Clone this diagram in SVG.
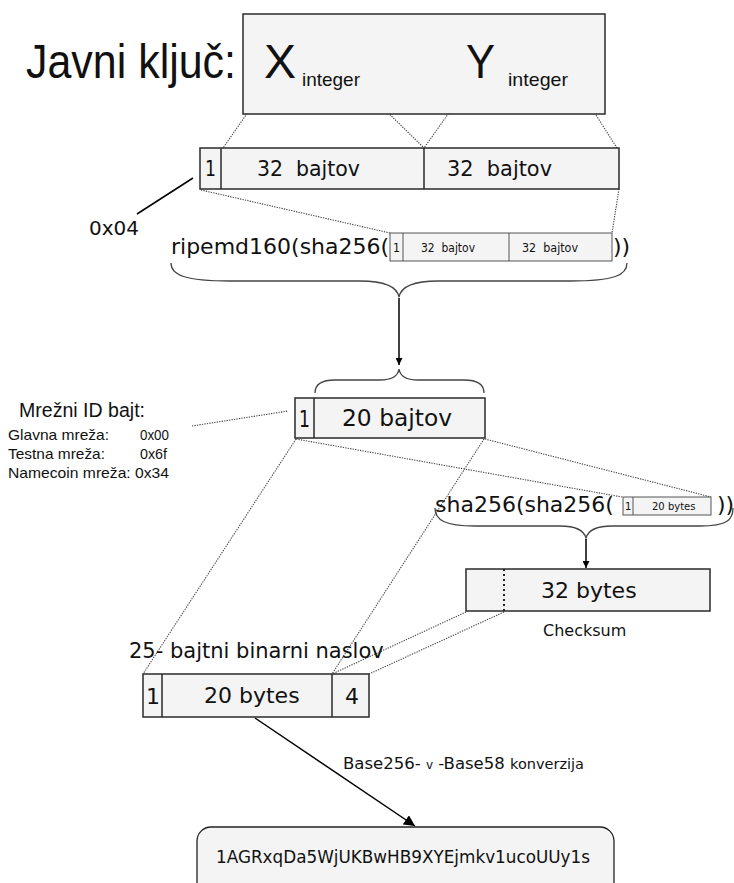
<svg xmlns="http://www.w3.org/2000/svg" width="734" height="883" viewBox="0 0 734 883">
<style>
.box{fill:#f4f4f4;stroke:#2a2a2a;stroke-width:1.5}
.sbox{fill:#f4f4f4;stroke:#555;stroke-width:1}
.div{stroke:#2a2a2a;stroke-width:1.5;fill:none}
.sdiv{stroke:#555;stroke-width:1;fill:none}
.dot{stroke:#444;stroke-width:1.1;stroke-dasharray:1.3 1.2;fill:none}
.brace{stroke:#444;stroke-width:1.3;fill:none}
.arr{stroke:#000;stroke-width:1.5;fill:none}
.ls{font-family:"Liberation Sans",Arial,sans-serif;fill:#111}
.dj{font-family:"DejaVu Sans",sans-serif;fill:#111}
</style>
<defs>
<marker id="ah" viewBox="0 0 10 10" refX="10" refY="5" markerWidth="7" markerHeight="7" orient="auto" markerUnits="userSpaceOnUse">
<path d="M0,0 L10,5 L0,10 z" fill="#000"/>
</marker>
<marker id="ahb" viewBox="0 0 10 10" refX="10" refY="5" markerWidth="11" markerHeight="11" orient="auto" markerUnits="userSpaceOnUse">
<path d="M0,0 L10,5 L0,10 z" fill="#000"/>
</marker>
</defs>

<g id="connectors">
<line class="dot" x1="260" y1="95" x2="223" y2="148"/>
<line class="dot" x1="372" y1="97" x2="424" y2="148"/>
<line class="dot" x1="463" y1="93" x2="424" y2="148"/>
<line class="dot" x1="580" y1="90" x2="617" y2="148"/>
<line x1="193" y1="178" x2="137" y2="214" stroke="#000" stroke-width="1.5"/>
<line class="dot" x1="201" y1="190" x2="390" y2="233"/>
<line class="dot" x1="619" y1="189" x2="612" y2="233"/>
<path class="brace" d="M171,263 C171,275 185,281 230,281 L360,281 C385,281 397,287 399,297 C401,287 413,281 438,281 L570,281 C615,281 627,275 627,263"/>
<line class="arr" x1="399" y1="298" x2="399" y2="365" marker-end="url(#ah)"/>
<path class="brace" d="M315,393 C315,385 320,380 335,380 L380,380 C393,380 398,376 399,369 C400,376 405,380 418,380 L464,380 C479,380 484,385 484,393"/>
<line class="dot" x1="192" y1="426" x2="288" y2="411"/>
<line class="dot" x1="296" y1="439" x2="622" y2="497"/>
<line class="dot" x1="485" y1="439" x2="711" y2="497"/>
<line class="dot" x1="296" y1="439" x2="143" y2="674"/>
<line class="dot" x1="484" y1="439" x2="332" y2="674"/>
<path class="brace" d="M435,508 C435,520 445,526 475,526 L560,526 C578,526 584,531 586,538 C588,531 594,526 612,526 L700,526 C727,526 733,520 733,508"/>
<line class="arr" x1="586" y1="539" x2="586" y2="568" marker-end="url(#ah)"/>
<line class="dot" x1="466" y1="612" x2="332" y2="674"/>
<line class="dot" x1="504" y1="612" x2="369" y2="674"/>
<line class="arr" x1="255" y1="718" x2="415" y2="826" marker-end="url(#ahb)"/>
</g>

<g id="public-key">
<rect class="box" x="243" y="14" width="362" height="100"/>
<text class="ls" x="26" y="78" font-size="48" textLength="210" lengthAdjust="spacingAndGlyphs">Javni ključ:</text>
<text class="ls" x="264" y="78" font-size="48" textLength="32" lengthAdjust="spacingAndGlyphs">X</text>
<text class="ls" x="302" y="86" font-size="19" textLength="58" lengthAdjust="spacingAndGlyphs">integer</text>
<text class="ls" x="466" y="78" font-size="48" textLength="29" lengthAdjust="spacingAndGlyphs">Y</text>
<text class="ls" x="508" y="86" font-size="19" textLength="60" lengthAdjust="spacingAndGlyphs">integer</text>
</g>

<g id="bar-65">
<rect class="box" x="200" y="148" width="419" height="41"/>
<line class="div" x1="221" y1="148" x2="221" y2="189"/>
<line class="div" x1="424" y1="148" x2="424" y2="189"/>
<text class="dj" x="205" y="176" font-size="21" textLength="11" lengthAdjust="spacingAndGlyphs">1</text>
<text class="dj" x="257" y="176" font-size="21" textLength="103" lengthAdjust="spacingAndGlyphs" xml:space="preserve">32  bajtov</text>
<text class="dj" x="447" y="176" font-size="21" textLength="105" lengthAdjust="spacingAndGlyphs" xml:space="preserve">32  bajtov</text>
</g>

<g id="prefix-label">
<text class="dj" x="89" y="235" font-size="20">0x04</text>
</g>

<g id="ripemd">
<text class="dj" x="171" y="254" font-size="22">ripemd160(sha256(</text>
<rect class="sbox" x="390" y="233" width="222" height="28"/>
<line class="sdiv" x1="403" y1="233" x2="403" y2="261"/>
<line class="sdiv" x1="509" y1="233" x2="509" y2="261"/>
<text class="dj" x="393" y="252" font-size="12" textLength="7" lengthAdjust="spacingAndGlyphs">1</text>
<text class="dj" x="421" y="252" font-size="12" textLength="54" lengthAdjust="spacingAndGlyphs" xml:space="preserve">32  bajtov</text>
<text class="dj" x="522" y="252" font-size="12" textLength="56" lengthAdjust="spacingAndGlyphs" xml:space="preserve">32  bajtov</text>
<text class="dj" x="613" y="254" font-size="22">))</text>
</g>

<g id="hash160">
<rect class="box" x="295" y="398" width="190" height="40"/>
<line class="div" x1="314" y1="398" x2="314" y2="438"/>
<text class="dj" x="299" y="427" font-size="23" textLength="11" lengthAdjust="spacingAndGlyphs">1</text>
<text class="dj" x="342" y="426" font-size="23" textLength="110" lengthAdjust="spacingAndGlyphs">20 bajtov</text>
</g>

<g id="network-id">
<text class="ls" x="19" y="417" font-size="20" textLength="126" lengthAdjust="spacingAndGlyphs">Mrežni ID bajt:</text>
<text class="ls" x="8" y="440" font-size="15" textLength="101" lengthAdjust="spacingAndGlyphs">Glavna mreža:</text>
<text class="ls" x="140" y="440" font-size="15" textLength="29" lengthAdjust="spacingAndGlyphs">0x00</text>
<text class="ls" x="8" y="459" font-size="15" textLength="97" lengthAdjust="spacingAndGlyphs">Testna mreža:</text>
<text class="ls" x="140" y="459" font-size="15" textLength="27" lengthAdjust="spacingAndGlyphs">0x6f</text>
<text class="ls" x="8" y="478" font-size="15" textLength="161" lengthAdjust="spacingAndGlyphs">Namecoin mreža: 0x34</text>
</g>

<g id="sha-checksum">
<text class="dj" x="435" y="512" font-size="22">sha256(sha256(</text>
<rect class="sbox" x="623" y="497" width="88" height="18"/>
<line class="sdiv" x1="633" y1="497" x2="633" y2="515"/>
<text class="dj" x="625" y="510" font-size="10">1</text>
<text class="dj" x="652" y="510" font-size="10">20 bytes</text>
<text class="dj" x="717" y="512" font-size="22">))</text>
</g>

<g id="checksum">
<rect class="box" x="466" y="569" width="244" height="42"/>
<line x1="504" y1="569" x2="504" y2="611" stroke="#222" stroke-width="2" stroke-dasharray="2 3"/>
<text class="dj" x="541" y="598" font-size="22">32 bytes</text>
<text class="dj" x="543" y="636" font-size="16">Checksum</text>
</g>

<g id="binary-address">
<text class="dj" x="129" y="658" font-size="21">25- bajtni binarni naslov</text>
<rect class="box" x="143" y="674" width="226" height="43"/>
<line class="div" x1="162" y1="674" x2="162" y2="717"/>
<line class="div" x1="332" y1="674" x2="332" y2="717"/>
<text class="dj" x="146" y="704" font-size="22">1</text>
<text class="dj" x="204" y="703" font-size="22">20 bytes</text>
<text class="dj" x="345" y="704" font-size="22">4</text>
</g>

<g id="conversion-label">
<text class="dj" x="343" y="769"><tspan font-size="16.5">Base256- </tspan><tspan font-size="12">v</tspan><tspan font-size="16.5"> -Base58 </tspan><tspan font-size="14.5">konverzija</tspan></text>
</g>

<g id="address">
<rect x="197" y="827" width="417" height="80" rx="14" ry="14" fill="#f4f4f4" stroke="#222" stroke-width="1.3"/>
<text class="dj" x="216" y="863" font-size="17" textLength="374" lengthAdjust="spacingAndGlyphs">1AGRxqDa5WjUKBwHB9XYEjmkv1ucoUUy1s</text>
</g>
</svg>
